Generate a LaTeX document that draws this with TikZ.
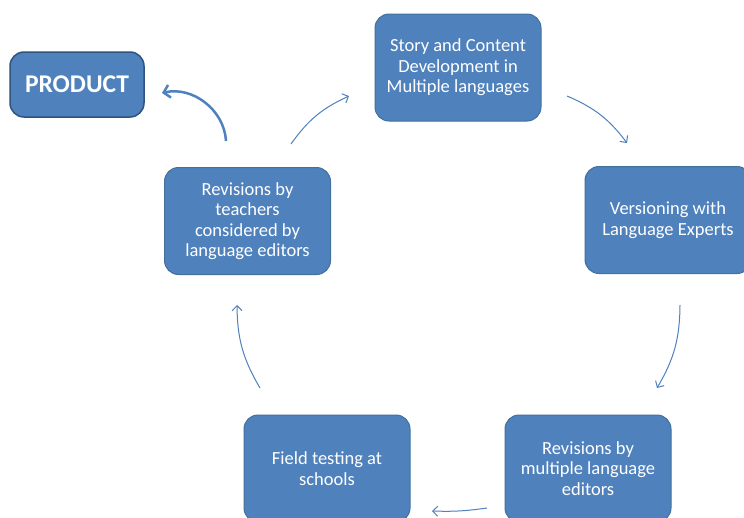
\documentclass[tikz,border=0pt]{standalone}
\usepackage{fontspec}
\setmainfont{Carlito}
\usetikzlibrary{arrows.meta, positioning}
\definecolor{boxblue}{HTML}{4F81BD}
\definecolor{boxline}{HTML}{41719C}
\definecolor{prodline}{HTML}{2F5480}
\tikzset{
	>={Straight Barb[length=5pt,width=10pt]},
	stage/.style={draw=boxline, line width=1pt, fill=boxblue, rounded corners=14pt,
		minimum width=166pt, minimum height=107pt, align=center, text=white,
		font=\fontsize{18.5}{20.5}\selectfont},
	product/.style={stage, draw=prodline, line width=1.5pt, minimum width=134pt,
		minimum height=65pt, font=\bfseries\fontsize{25.5}{28}\selectfont},
	flow/.style={->, draw=boxblue, line width=1pt},
	bigflow/.style={-{Straight Barb[length=6pt,width=13pt]}, draw=boxblue, line width=2.5pt},
}

\begin{document}
\begin{tikzpicture}[x=1pt, y=-1pt]
		\useasboundingbox[fill=white] (0,0) rectangle (744,517);
		\node[product] (PROD) at (77,84.5) {PRODUCT};
		\node[stage] (STORY) at (458,67.5) {Story and Content\\Development in\\Multiple languages};
		\node[stage] (VERS) at (668,220) {Versioning with\\Language Experts};
		\node[stage] (REVM) at (588,468.5) {Revisions by\\multiple language\\editors};
		\node[stage] (FIELD) at (327,468.5) {Field testing at\\schools};
		\node[stage] (REVT) at (247.5,221) {Revisions by\\teachers\\considered by\\language editors};
		% free ends of the cycle arrows
		\coordinate (s1) at (567,96);   \coordinate (e1) at (627,143);
		\coordinate (s2) at (680,305);  \coordinate (e2) at (657,388);
		\coordinate (s3) at (487,508);  \coordinate (e3) at (432,511);
		\coordinate (s4) at (260,388);  \coordinate (e4) at (237,305);
		\coordinate (s5) at (291,144);  \coordinate (e5) at (349,96);
		\coordinate (s6) at (226,141);  \coordinate (e6) at (162,93);

		\draw
			(s1) edge[flow, bend left=15] (e1)
			(s2) edge[flow, bend left=15] (e2)
			(s3) edge[flow, bend left=5] (e3)
			(s4) edge[flow, bend left=15] (e4)
			(s5) edge[flow, bend left=15] (e5)
			%
			(s6) edge[bigflow, bend right=50] (e6)
		;
	\end{tikzpicture}
\end{document}
